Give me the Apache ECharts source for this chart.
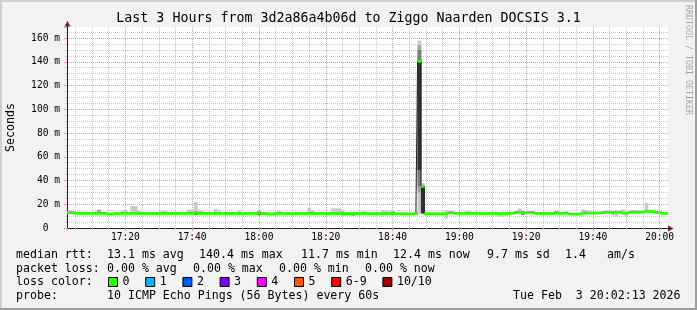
<!DOCTYPE html>
<html><head><meta charset="utf-8">
<script src="https://cdn.jsdelivr.net/npm/echarts@6.0.0/dist/echarts.min.js"></script>
<style>html,body{margin:0;padding:0;background:#f2f2f2;}#c{width:697px;height:310px;}</style>
</head><body><div id="c"></div>
<script>
// ---------------- data ----------------
const titleText = 'Last 3 Hours from 3d2a86a4b06d to Ziggo Naarden DOCSIS 3.1';
const axisTitle = 'Seconds';
const watermark = 'RRDTOOL / TOBI OETIKER';
const firstStep = 3;           // centre of first 60 s step, minutes after 17:00
const xStart = 2.5, xEnd = 182.5; // 17:02:30 .. 20:02:30
const yMax = 169.3;

// median rtt per minute (ms)
const medians = [
 13.0,13.0,12.5,12.4,12.4,12.3,12.4,12.4,12.3,12.4,
 12.4,12.3,11.8,11.8,12.2,12.3,12.3,12.4,12.3,12.3,
 12.3,12.4,12.4,12.3,12.3,12.2,12.3,12.3,12.4,12.3,
 12.3,12.2,12.3,12.3,12.4,12.3,12.4,12.4,13.1,12.3,
 12.3,12.3,12.4,12.3,12.3,12.2,12.3,12.3,12.2,12.3,
 12.3,12.3,12.2,12.3,12.3,12.4,12.3,13.3,12.3,12.2,
 11.8,11.8,12.2,12.3,12.3,12.2,12.3,12.1,12.2,12.3,
 12.3,12.2,12.3,12.3,12.2,12.3,12.3,12.2,12.3,12.3,
 12.2,12.3,12.4,12.4,12.4,12.4,12.4,12.4,12.3,12.2,
 12.1,12.1,12.2,12.1,12.2,12.2,12.3,13.0,12.1,12.0,
 12.0,12.0,11.9,11.9,12.0,140.4,35.0,12.0,12.1,12.0,
 12.0,12.1,12.0,12.1,13.0,12.9,12.3,12.3,12.2,12.3,
 12.3,12.3,12.4,12.3,12.3,12.2,12.3,12.3,12.3,12.2,
 12.3,12.3,12.4,12.5,13.2,13.2,13.1,12.8,13.2,13.1,
 12.3,12.3,12.2,12.3,12.2,12.3,13.2,12.3,12.4,12.6,
 11.8,11.7,11.7,11.9,12.6,12.6,12.7,12.6,12.6,12.7,
 13.0,13.2,13.3,13.2,13.4,13.3,12.6,12.5,13.4,13.5,
 13.4,13.3,13.5,14.0,14.0,13.8,13.1,12.9,12.3,12.4
];
// highest ping per minute (ms)
const smokeMax = [
 14.0,14.2,13.8,13.2,13.3,13.2,13.0,13.2,14.0,15.5,
 13.2,13.0,12.8,12.9,13.2,13.3,14.5,15.2,13.2,18.5,
 18.5,14.5,13.2,13.3,13.1,13.2,13.3,13.1,14.5,14.5,
 13.1,13.2,13.3,13.2,13.3,13.2,15.7,15.5,22.0,15.5,
 14.5,13.2,13.3,13.2,16.0,15.0,13.2,13.3,13.1,13.2,
 13.3,14.5,13.2,13.3,13.1,13.3,13.2,14.2,13.2,13.1,
 13.0,12.9,13.2,14.5,13.3,13.1,13.2,13.0,13.1,13.3,
 13.2,13.1,17.0,15.0,13.1,13.2,13.3,13.1,13.2,16.5,
 16.5,16.5,15.0,13.1,13.0,13.0,13.1,13.2,14.0,14.0,
 13.0,13.1,13.0,13.1,14.5,14.5,14.0,13.8,13.0,12.9,
 13.0,12.9,12.8,12.9,13.0,158.0,38.0,13.0,13.1,12.9,
 13.0,13.1,13.0,15.2,13.8,13.7,13.3,13.2,13.1,14.0,
 14.2,13.5,13.8,13.6,13.2,13.1,13.2,13.2,13.3,13.1,
 13.2,13.1,13.3,13.5,14.2,16.5,14.0,13.7,14.0,13.8,
 13.2,13.1,13.1,13.2,13.1,13.2,14.0,13.2,13.3,13.6,
 12.8,12.6,12.7,12.9,15.8,15.0,13.6,13.5,13.6,13.6,
 14.0,14.0,14.1,14.0,14.2,14.1,15.7,13.5,14.2,14.3,
 15.0,14.1,14.2,21.0,14.6,14.5,14.0,14.5,13.2,13.2
];
// lowest ping per minute (ms)
const smokeMin = [
 12.0,11.9,11.6,11.5,11.6,11.5,11.5,11.6,11.4,11.5,
 11.6,11.4,11.0,11.0,11.3,11.4,11.5,11.5,11.4,11.5,
 11.4,11.5,11.6,11.4,11.5,11.3,11.4,11.5,11.5,11.3,
 11.5,11.3,11.4,11.5,11.4,11.5,11.5,11.2,11.1,11.4,
 11.5,11.4,11.5,11.4,11.5,11.3,11.4,11.5,11.3,11.4,
 11.5,11.4,11.3,11.5,11.4,11.5,11.4,11.3,11.4,11.3,
 10.9,10.8,11.3,11.4,11.5,11.3,11.4,10.8,11.3,11.4,
 11.5,11.3,11.4,11.5,11.3,11.4,11.5,11.3,11.4,11.3,
 11.0,10.9,10.8,10.8,10.9,10.7,10.9,11.0,11.2,11.1,
 11.2,11.1,11.2,11.0,11.2,11.1,11.3,11.4,11.2,11.1,
 11.1,11.0,11.0,11.0,11.1,12.0,11.5,11.1,11.2,11.1,
 11.1,11.2,11.0,8.0,11.8,11.9,11.4,11.4,11.2,11.3,
 11.4,11.3,11.4,11.3,11.3,11.2,11.4,11.3,10.6,9.6,
 9.6,10.2,11.4,11.5,12.1,12.2,12.0,11.8,12.1,12.0,
 11.4,11.3,11.2,11.4,11.3,11.4,12.1,11.3,11.4,11.5,
 10.8,10.5,10.6,10.9,11.6,11.6,11.7,11.6,11.6,11.7,
 12.0,12.2,12.3,10.5,9.6,12.3,11.5,9.6,12.4,12.5,
 12.3,12.2,12.3,13.0,13.0,12.8,12.1,11.9,11.3,11.4
];
// inner smoke layers: [step index, low ms, high ms]
const smokeMid  = [[9,12.3,15.3],[105,30,154],[106,11.8,36.5]];
const smokeDeep = [[38,10.8,12.3],[57,10.9,12.4],[82,10.7,11.6],[83,10.7,11.6],[84,10.8,11.6],
                   [85,10.5,11.6],[86,10.8,11.6],[87,10.9,11.6],[97,11.2,12.2],[136,10.8,12.2],[105,35,150]];
const smokeCore = [[105,49,141],[106,12.5,34.5]];

// ticks (minutes after 17:00 / milliseconds)
const majorTimes = [20,40,60,80,100,120,140,160,180];
const majorValues = [0,20,40,60,80,100,120,140,160];
const majorTimeStep = 20, minorTimeStep = 5, majorValueStep = 20, minorValueStep = 5;

// legend texts
const rttLabel = 'median rtt:';
const rttStats = ['13.1 ms avg','140.4 ms max','11.7 ms min','12.4 ms now','9.7 ms sd','1.4','am/s'];
const lossLabel = 'packet loss:';
const lossStats = ['0.00 % avg','0.00 % max','0.00 % min','0.00 % now'];
const colorLabel = 'loss color:';
const lossLabels = ['0','1','2','3','4','5','6-9','10/10'];
const probeLabel = 'probe:';
const probeText = '10 ICMP Echo Pings (56 Bytes) every 60s';
const stampText = 'Tue Feb  3 20:02:13 2026';

// ---------------- styles / layout ----------------
const lossColors = ['#26ff00','#00b8ff','#0059ff','#7e00ff','#ff00ff','#ff5500','#ff0000','#a10000'];
const MONO = '"DejaVu Sans Mono", monospace';
const GRID_C = '#c9c9c9';
const MGRID_C = '#eb9595';
const rttX = [107,199,301,393,487,565,607];
const lossX = [107,193,279,365];
const swatchX = [108,145.2,182.4,219.6,256.8,294,331.2,382.4];
const rowY = [254.5,268.5,282,296];

const stepTimes = medians.map((_, k) => firstStep + k);
function hhmm(m){ const h = 17 + Math.floor(m/60); const mm = Math.round(m % 60); return h + ':' + String(mm).padStart(2,'0'); }

function bandSeries(name, data, color, z){
  return {
    type:'custom', name, z, silent:true, clip:true, animation:false,
    encode:{x:0, y:[1,2]}, data,
    renderItem(params, api){
      const t = api.value(0), lo = api.value(1), hi = api.value(2);
      const a = api.coord([t-0.5, hi]);
      const b = api.coord([t+0.5, lo]);
      return {type:'rect', shape:{x:a[0], y:a[1], width:b[0]-a[0]+0.35, height:b[1]-a[1]}, style:{fill:color}};
    }
  };
}
const sparse = arr => arr.map(([k,lo,hi]) => [stepTimes[k], lo, hi]);

function txt(text, x, y, opts){
  return {type:'text', silent:true, style:Object.assign({
    text, x, y, fill:'#000', font:'11.6px ' + MONO,
    textAlign:'left', textVerticalAlign:'middle', align:'left', verticalAlign:'middle'
  }, opts || {})};
}

const graphics = [];
// frame shading
graphics.push({type:'rect', silent:true, shape:{x:0,y:0,width:697,height:2}, style:{fill:'#cfcfcf'}});
graphics.push({type:'rect', silent:true, shape:{x:0,y:0,width:2,height:310}, style:{fill:'#cfcfcf'}});
graphics.push({type:'rect', silent:true, shape:{x:695,y:0,width:2,height:310}, style:{fill:'#9e9e9e'}});
graphics.push({type:'rect', silent:true, shape:{x:0,y:308,width:697,height:2}, style:{fill:'#9e9e9e'}});
// axis extensions and arrows
graphics.push({type:'line', silent:true, z:10, shape:{x1:67.5,y1:27,x2:67.5,y2:23}, style:{stroke:'#1f1f1f', lineWidth:1}});
graphics.push({type:'polygon', silent:true, z:10, shape:{points:[[64.5,26.5],[67.5,21],[70.5,26.5]]}, style:{fill:'#801f1f'}});
graphics.push({type:'polygon', silent:true, z:10, shape:{points:[[668,225.5],[673.5,228.5],[668,231.5]]}, style:{fill:'#801f1f'}});
// axis title and watermark
graphics.push({type:'text', silent:true, x:11, y:127.5, rotation:Math.PI/2,
  style:{text:axisTitle, fill:'#000', font:'11.6px ' + MONO, textAlign:'center', textVerticalAlign:'middle', align:'center', verticalAlign:'middle'}});
graphics.push({type:'text', silent:true, x:688, y:60, rotation:-Math.PI/2,
  style:{text:watermark, fill:'rgba(0,0,0,0.33)', font:'8.3px ' + MONO, textAlign:'center', textVerticalAlign:'middle', align:'center', verticalAlign:'middle'}});
// legend rows
graphics.push(txt(rttLabel, 16, rowY[0]));
rttStats.forEach((s,i) => graphics.push(txt(s, rttX[i], rowY[0])));
graphics.push(txt(lossLabel, 16, rowY[1]));
lossStats.forEach((s,i) => graphics.push(txt(s, lossX[i], rowY[1])));
graphics.push(txt(colorLabel, 16, rowY[2]));
lossLabels.forEach((s,i) => {
  graphics.push({type:'rect', silent:true, shape:{x:swatchX[i]+0.5, y:rowY[2]-4.5, width:9, height:9},
    style:{fill:lossColors[i], stroke:'#000', lineWidth:1}});
  graphics.push(txt(s, swatchX[i]+14.5, rowY[2]));
});
graphics.push(txt(probeLabel, 16, rowY[3]));
graphics.push(txt(probeText, 107, rowY[3]));
graphics.push(txt(stampText, 513, rowY[3]));

const axisFont = {fontSize:9.6, fontFamily:MONO, color:'#000'};

const option = {
  animation:false,
  backgroundColor:'#f2f2f2',
  title:{text:titleText, left:'center', top:12, padding:0,
    textStyle:{fontSize:13.3, fontWeight:'normal', fontFamily:MONO, color:'#000', lineHeight:14}},
  grid:{left:67, right:29, top:27, bottom:82, show:true, backgroundColor:'#ffffff', borderWidth:0, containLabel:false},
  xAxis:[
    {type:'value', min:xStart, max:xEnd, position:'bottom',
     minInterval:minorTimeStep, maxInterval:minorTimeStep, splitNumber:36,
     axisLine:{show:false}, axisLabel:{show:false},
     axisTick:{show:true, length:2, lineStyle:{color:GRID_C}},
     splitLine:{show:true, showMinLine:false, showMaxLine:false, lineStyle:{color:GRID_C, type:[1,1], width:1}}},
    {type:'value', min:xStart, max:xEnd, position:'bottom',
     minInterval:majorTimeStep, maxInterval:majorTimeStep, splitNumber:9,
     axisLine:{show:true, onZero:false, lineStyle:{color:'#1f1f1f', width:1}},
     axisTick:{show:true, length:3, lineStyle:{color:MGRID_C}},
     axisLabel:Object.assign({customValues:majorTimes, formatter:hhmm, margin:4}, axisFont),
     splitLine:{show:true, showMinLine:false, showMaxLine:false, lineStyle:{color:MGRID_C, type:[1,1], width:1}}}
  ],
  yAxis:[
    {type:'value', min:0, max:yMax, interval:minorValueStep, position:'left',
     axisLine:{show:false}, axisLabel:{show:false},
     axisTick:{show:true, length:2, lineStyle:{color:GRID_C}},
     splitLine:{show:true, showMinLine:false, showMaxLine:false, lineStyle:{color:GRID_C, type:[1,1], width:1}}},
    {type:'value', min:0, max:yMax, interval:majorValueStep, position:'left',
     axisLine:{show:true, onZero:false, lineStyle:{color:'#1f1f1f', width:1}},
     axisTick:{show:true, length:3, lineStyle:{color:MGRID_C}},
     axisLabel:Object.assign({customValues:majorValues, margin:7,
        formatter: v => v === 0 ? '0  ' : v + ' m'}, axisFont),
     splitLine:{show:true, showMinLine:false, showMaxLine:false, lineStyle:{color:MGRID_C, type:[1,1], width:1}}}
  ],
  series:[
    bandSeries('smoke', stepTimes.map((t,k) => [t, smokeMin[k], smokeMax[k]]), '#cacaca', 2),
    bandSeries('smoke mid', sparse(smokeMid), '#a4a4a4', 2),
    bandSeries('smoke deep', sparse(smokeDeep), '#7e7e7e', 2),
    bandSeries('smoke core', sparse(smokeCore), '#323232', 2),
    {type:'line', name:'median', z:3, step:'middle', showSymbol:false, silent:true, animation:false,
     data:stepTimes.map((t,k) => [t, medians[k]]),
     lineStyle:{color:'#202020', width:1}},
    {type:'custom', name:'median (loss 0)', z:4, silent:true, clip:true, animation:false,
     encode:{x:0, y:1},
     data:stepTimes.map((t,k) => [t, medians[k]]),
     renderItem(params, api){
       const t = api.value(0), m = api.value(1);
       const a = api.coord([t-0.5, m]);
       const b = api.coord([t+0.5, m]);
       return {type:'rect', shape:{x:a[0], y:a[1]-1.35, width:b[0]-a[0]+0.35, height:2.7}, style:{fill:lossColors[0]}};
     }}
  ],
  graphic:graphics
};

const chart = echarts.init(document.getElementById('c'), null, {renderer:'canvas', width:697, height:310});
chart.setOption(option);
</script>
</body></html>
